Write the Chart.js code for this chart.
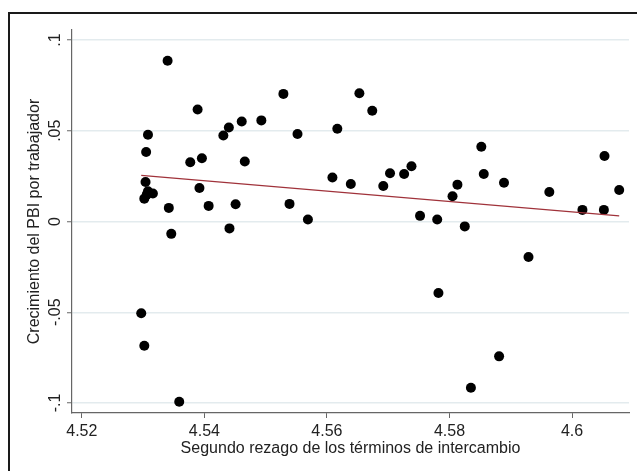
<!DOCTYPE html>
<html>
<head>
<meta charset="utf-8">
<script src="https://cdn.jsdelivr.net/npm/chart.js@4/dist/chart.umd.min.js"></script>
<style>
  html, body { margin: 0; padding: 0; background: #fff; }
  canvas { display: block; }
</style>
</head>
<body>
<canvas id="scatter" width="637" height="471"></canvas>
<script>
// Segundo rezago de los términos de intercambio (x) vs crecimiento del PBI por trabajador (y)
const termsLag2 = [
  4.5340, 4.5389, 4.5308, 4.5305, 4.5377, 4.5396, 4.5431, 4.5440, 4.5461, 4.5493,
  4.5466, 4.5304, 4.5302, 4.5306, 4.5308, 4.5316, 4.5392, 4.5342, 4.5407, 4.5451,
  4.5441, 4.5346, 4.5529, 4.5552, 4.5539, 4.5569, 4.5653, 4.5674, 4.5617, 4.5609,
  4.5639, 4.5692, 4.5703, 4.5726, 4.5738, 4.5752, 4.5780, 4.5805, 4.5813, 4.5852,
  4.5856, 4.5889, 4.5963, 4.6017, 4.6052, 4.6053, 4.6077, 4.5825, 4.5297, 4.5302,
  4.5359, 4.5929, 4.5881, 4.5835, 4.5782
];
const growthPBI = [
  0.0886, 0.0617, 0.0478, 0.0383, 0.0326, 0.0348, 0.0474, 0.0518, 0.0551, 0.0557,
  0.0331, 0.0218, 0.0126, 0.0148, 0.0166, 0.0154, 0.0185, 0.0075, 0.0086, 0.0095,
  -0.0038, -0.0068, 0.0703, 0.0482, 0.0097, 0.0011, 0.0707, 0.0610, 0.0511, 0.0242,
  0.0207, 0.0196, 0.0266, 0.0262, 0.0304, 0.0031, 0.0011, 0.0139, 0.0203, 0.0412,
  0.0262, 0.0213, 0.0163, 0.0064, 0.0064, 0.0361, 0.0174, -0.0027, -0.0505, -0.0685,
  -0.0993, -0.0196, -0.0743, -0.0916, -0.0394
];

// fitted line, end points
const fitX = [4.5297, 4.6077];
const fitY = [0.0254, 0.0031];

const xTicks = [4.52, 4.54, 4.56, 4.58, 4.6];
const xTickLabels = ['4.52', '4.54', '4.56', '4.58', '4.6'];
const yTicks = [-0.1, -0.05, 0, 0.05, 0.1];
const yTickLabels = ['-.1', '-.05', '0', '.05', '.1'];

const FONT = 'Liberation Sans, Arial, sans-serif';

const framePlugin = {
  id: 'frame',
  beforeDraw(chart) {
    const ctx = chart.ctx;
    ctx.save();
    ctx.fillStyle = '#fff';
    ctx.fillRect(0, 0, chart.width, chart.height);
    ctx.strokeStyle = '#1a1a1a';
    ctx.lineWidth = 2;
    ctx.beginPath();
    ctx.moveTo(9, chart.height + 2);
    ctx.lineTo(9, 13);
    ctx.lineTo(chart.width + 2, 13);
    ctx.stroke();
    ctx.restore();
  },
  afterDraw(chart) {
    // y tick labels are rotated like the original
    const ctx = chart.ctx;
    const y = chart.scales.y;
    ctx.save();
    ctx.fillStyle = '#222';
    ctx.font = '16px ' + FONT;
    ctx.textAlign = 'center';
    ctx.textBaseline = 'middle';
    yTicks.forEach((v, i) => {
      ctx.save();
      ctx.translate(56, y.getPixelForValue(v));
      ctx.rotate(-Math.PI / 2);
      ctx.fillText(yTickLabels[i], 0, 0);
      ctx.restore();
    });
    ctx.restore();
  }
};

new Chart(document.getElementById('scatter'), {
  type: 'scatter',
  data: {
    datasets: [
      {
        data: termsLag2.map((x, i) => ({ x, y: growthPBI[i] })),
        backgroundColor: '#000',
        borderWidth: 0,
        pointRadius: 5,
        order: 2
      },
      {
        type: 'line',
        data: fitX.map((x, i) => ({ x, y: fitY[i] })),
        borderColor: '#a0323a',
        borderWidth: 1.4,
        pointRadius: 0,
        fill: false,
        order: 1
      }
    ]
  },
  options: {
    responsive: false,
    animation: false,
    layout: { padding: { left: 0, right: 8, top: 30, bottom: 0 } },
    plugins: { legend: { display: false }, tooltip: { enabled: false } },
    scales: {
      x: {
        type: 'linear',
        min: 4.5184,
        max: 4.6093,
        afterFit: s => { s.height = 58; },
        afterBuildTicks: s => { s.ticks = xTicks.map(v => ({ value: v })); },
        ticks: {
          padding: 4,
          color: '#222',
          font: { family: FONT, size: 16 },
          maxRotation: 0,
          callback: (v, i) => xTickLabels[i]
        },
        grid: { drawOnChartArea: false, drawTicks: true, tickLength: 5, tickColor: '#666', tickWidth: 1 },
        border: { display: true, color: '#666', width: 1.2 },
        title: {
          display: true,
          text: 'Segundo rezago de los términos de intercambio',
          color: '#222',
          font: { family: FONT, size: 16 },
          padding: { top: 0, bottom: 13 }
        }
      },
      y: {
        type: 'linear',
        min: -0.1055,
        max: 0.1055,
        afterFit: s => { s.width = 72; },
        afterBuildTicks: s => { s.ticks = yTicks.map(v => ({ value: v })); },
        ticks: { display: false },
        grid: { color: '#e3ebee', lineWidth: 1.5, drawTicks: true, tickLength: 5, tickColor: '#666', tickWidth: 1 },
        border: { display: true, color: '#666', width: 1.2 },
        title: {
          display: true,
          text: 'Crecimiento del PBI por trabajador',
          color: '#222',
          font: { family: FONT, size: 16 },
          padding: { top: 25, bottom: 0 }
        }
      }
    }
  },
  plugins: [framePlugin]
});
</script>
</body>
</html>
